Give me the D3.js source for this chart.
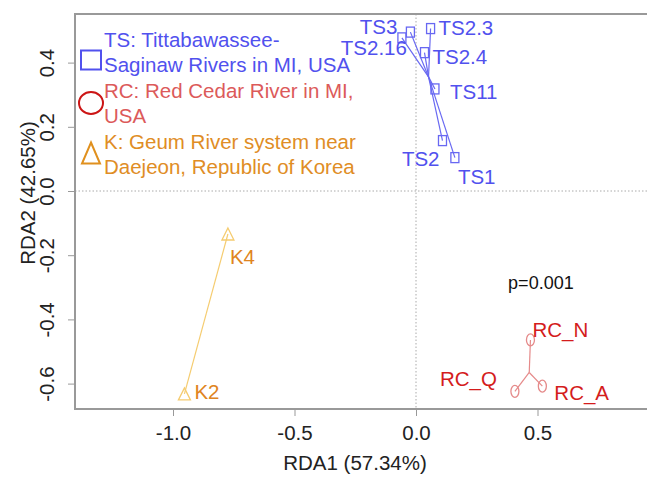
<!DOCTYPE html>
<html>
<head>
<meta charset="utf-8">
<script src="https://cdn.jsdelivr.net/npm/d3@7"></script>
<style>
  body { margin: 0; background: #fff; }
  svg text { font-family: "Liberation Sans", Arial, sans-serif; }
</style>
</head>
<body>
<div id="chart"></div>
<script>
(function(){
    // site scores
    var tsNames = ["TS3", "TS2.3", "TS2.16", "TS2.4", "TS11", "TS2", "TS1"],
        tsX = [-0.023, 0.060, -0.058, 0.035, 0.078, 0.109, 0.160],
        tsY = [0.495, 0.506, 0.477, 0.431, 0.318, 0.157, 0.104];

    var rcNames = ["RC_N", "RC_Q", "RC_A"],
        rcX = [0.471, 0.407, 0.520],
        rcY = [-0.464, -0.624, -0.608];

    var kNames = ["K4", "K2"],
        kX = [-0.774, -0.953],
        kY = [-0.134, -0.632];

    var xTicks = [-1.0, -0.5, 0.0, 0.5],
        yTicks = [-0.6, -0.4, -0.2, 0.0, 0.2, 0.4];

    var legendLines = [
        ["TS: Tittabawassee-", "Saginaw Rivers in MI, USA"],
        ["RC: Red Cedar River in MI,", "USA"],
        ["K: Geum River system near", "Daejeon, Republic of Korea"]
    ];

    // label placement next to each point (px)
    var labelPos = {
        "TS3":    {dx: -13, dy: 2,  a: "end"},
        "TS2.3":  {dx: 8,   dy: 6,  a: "start"},
        "TS2.16": {dx: 5,   dy: 17, a: "end"},
        "TS2.4":  {dx: 8,   dy: 11, a: "start"},
        "TS11":   {dx: 15,  dy: 10, a: "start"},
        "TS2":    {dx: -3,  dy: 25, a: "end"},
        "TS1":    {dx: 3,   dy: 26, a: "start"},
        "RC_N":   {dx: 2,   dy: -3, a: "start"},
        "RC_Q":   {dx: -18, dy: -5, a: "end"},
        "RC_A":   {dx: 12,  dy: 14, a: "start"},
        "K4":     {dx: 2,   dy: 30, a: "start"},
        "K2":     {dx: 10,  dy: 5,  a: "start"}
    };

    var groups = [
        {names: tsNames, xs: tsX, ys: tsY, shape: "square",
         mark: "#6868f2", label: "#5151ee", legend: "#5151ee", sym: "#5151ee"},
        {names: rcNames, xs: rcX, ys: rcY, shape: "circle",
         mark: "#e58a8a", label: "#d41c1c", legend: "#dc5a5a", sym: "#cc1515"},
        {names: kNames, xs: kX, ys: kY, shape: "triangle",
         mark: "#f5cc70", label: "#e08420", legend: "#e08d25", sym: "#e0901e"}
    ];

    var W = 647, H = 478,
        left = 75, top = 14, bottom = 409, right = 720,
        fs = "20.5px";

    var x = d3.scaleLinear().domain([0, 1]).range([416, 659]),
        y = d3.scaleLinear().domain([0, 1]).range([191, -130]);

    var svg = d3.select("#chart").append("svg")
        .attr("width", W).attr("height", H);

    // zero lines
    svg.append("line")
        .attr("x1", x(0)).attr("x2", x(0)).attr("y1", top).attr("y2", bottom)
        .attr("stroke", "#aaa").attr("stroke-dasharray", "1.5,2");
    svg.append("line")
        .attr("x1", left).attr("x2", W).attr("y1", y(0)).attr("y2", y(0))
        .attr("stroke", "#aaa").attr("stroke-dasharray", "1.5,2");

    // box
    svg.append("rect")
        .attr("x", left).attr("y", top)
        .attr("width", right - left).attr("height", bottom - top)
        .attr("fill", "none").attr("stroke", "#999").attr("stroke-width", 2);

    // axes
    var xAxis = svg.append("g")
        .attr("transform", "translate(0," + bottom + ")")
        .call(d3.axisBottom(x).tickValues(xTicks).tickFormat(d3.format(".1f"))
            .tickSize(7).tickPadding(9));
    var yAxis = svg.append("g")
        .attr("transform", "translate(" + left + ",0)")
        .call(d3.axisLeft(y).tickValues(yTicks).tickFormat(d3.format(".1f"))
            .tickSize(7));

    [xAxis, yAxis].forEach(function(g){
        g.select(".domain").remove();
        g.selectAll(".tick line").attr("stroke", "#999");
        g.selectAll(".tick text")
            .attr("fill", "#222").style("font-size", fs)
            .style("font-family", "'Liberation Sans', Arial, sans-serif");
    });
    xAxis.selectAll(".tick text").text(function(d){ return d3.format(".1f")(d).replace("−", "-"); });
    yAxis.selectAll(".tick text")
        .text(function(d){ return d3.format(".1f")(d).replace("−", "-"); })
        .attr("x", null).attr("dy", null)
        .attr("text-anchor", "middle")
        .attr("transform", "translate(-21,0) rotate(-90)");

    // axis titles
    svg.append("text")
        .attr("x", 355).attr("y", 470)
        .attr("text-anchor", "middle").attr("fill", "#222")
        .style("font-size", fs).text("RDA1 (57.34%)");
    svg.append("text")
        .attr("transform", "translate(35," + (y(0) + 2) + ") rotate(-90)")
        .attr("text-anchor", "middle").attr("fill", "#222")
        .style("font-size", fs).text("RDA2 (42.65%)");

    function drawSymbol(g, shape, cx, cy, s, color, sw) {
        if (shape === "square") {
            g.append("rect")
                .attr("x", cx - s.w / 2).attr("y", cy - s.h / 2)
                .attr("width", s.w).attr("height", s.h)
                .attr("fill", "none").attr("stroke", color).attr("stroke-width", sw);
        } else if (shape === "circle") {
            g.append("ellipse")
                .attr("cx", cx).attr("cy", cy).attr("rx", s.w / 2).attr("ry", s.h / 2)
                .attr("fill", "none").attr("stroke", color).attr("stroke-width", sw);
        } else {
            g.append("path")
                .attr("d", "M" + cx + "," + (cy - s.h / 2) +
                    "L" + (cx + s.w / 2) + "," + (cy + s.h / 2) +
                    "L" + (cx - s.w / 2) + "," + (cy + s.h / 2) + "Z")
                .attr("fill", "none").attr("stroke", color).attr("stroke-width", sw);
        }
    }

    var markSize = {square: {w: 8, h: 10}, circle: {w: 8, h: 12}, triangle: {w: 12, h: 12}};

    // spiders, points, labels
    groups.forEach(function(gr){
        var cx = d3.mean(gr.xs), cy = d3.mean(gr.ys);
        var g = svg.append("g");
        gr.names.forEach(function(n, i){
            g.append("line")
                .attr("x1", x(cx)).attr("y1", y(cy))
                .attr("x2", x(gr.xs[i])).attr("y2", y(gr.ys[i]))
                .attr("stroke", gr.mark).attr("stroke-width", 1.2);
        });
        gr.names.forEach(function(n, i){
            drawSymbol(g, gr.shape, x(gr.xs[i]), y(gr.ys[i]), markSize[gr.shape], gr.mark, 1.3);
        });
        gr.names.forEach(function(n, i){
            var p = labelPos[n];
            g.append("text")
                .attr("x", x(gr.xs[i]) + p.dx).attr("y", y(gr.ys[i]) + p.dy)
                .attr("text-anchor", p.a).attr("fill", gr.label)
                .style("font-size", fs).text(n);
        });
    });

    // p value
    svg.append("text")
        .attr("x", x(0.514)).attr("y", y(-0.283) + 7)
        .attr("text-anchor", "middle").attr("fill", "#111")
        .style("font-size", "18px").text("p=0.001");

    // legend
    var legSize = {square: {w: 20, h: 19}, circle: {w: 24, h: 22}, triangle: {w: 18, h: 21}},
        legSymY = [60, 103, 153],
        legTextY = [47, 98, 149];
    var legend = svg.append("g");
    groups.forEach(function(gr, i){
        drawSymbol(legend, gr.shape, 91, legSymY[i], legSize[gr.shape], gr.sym, 2);
        legendLines[i].forEach(function(t, j){
            legend.append("text")
                .attr("x", 104).attr("y", legTextY[i] + j * 25)
                .attr("fill", gr.legend)
                .style("font-size", fs).text(t);
        });
    });
})();
</script>
</body>
</html>
